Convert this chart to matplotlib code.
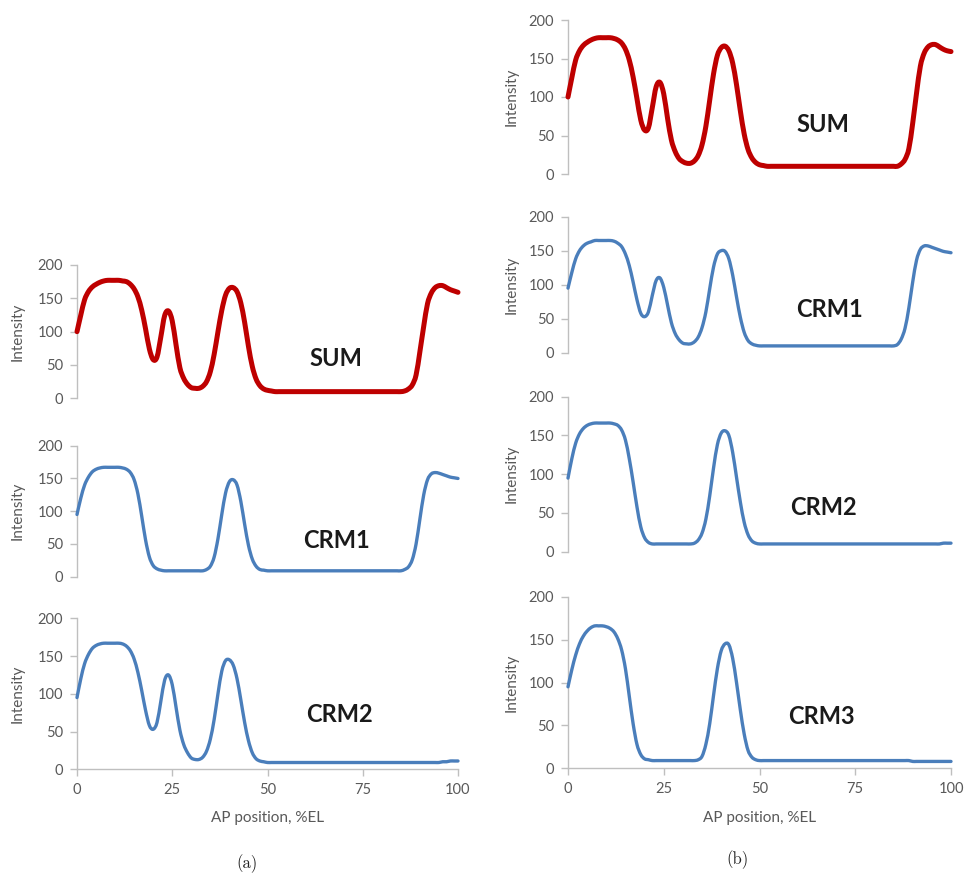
import matplotlib
matplotlib.use("Agg")
import numpy as np
import matplotlib.pyplot as plt
from matplotlib.path import Path
from matplotlib.patches import PathPatch

# ---------------- data ----------------
ap_position = list(range(0, 101))
xticks = [0, 25, 50, 75, 100]
xtick_labels = ["0", "25", "50", "75", "100"]
yticks = [0, 50, 100, 150, 200]
ytick_labels = ["0", "50", "100", "150", "200"]

a_sum = [100, 125, 148, 160, 167, 171, 174, 176, 177, 177,
         177, 177, 176, 175, 171, 164, 152, 132, 104, 74,
         58, 62, 92, 124, 131, 116, 80, 46, 30, 21,
         16, 15, 15, 18, 25, 40, 66, 100, 132, 155,
         165, 166, 160, 143, 114, 78, 48, 29, 19, 14,
         12, 11, 10, 10, 10, 10, 10, 10, 10, 10,
         10, 10, 10, 10, 10, 10, 10, 10, 10, 10,
         10, 10, 10, 10, 10, 10, 10, 10, 10, 10,
         10, 10, 10, 10, 10, 10, 11, 14, 20, 35,
         70, 108, 142, 158, 166, 169, 169, 166, 163, 161,
         159]

a_crm1 = [95, 120, 140, 152, 160, 164, 166, 167, 167, 167,
          167, 167, 166, 164, 159, 148, 126, 92, 56, 30,
          17, 12, 10, 9, 9, 9, 9, 9, 9, 9,
          9, 9, 9, 9, 11, 16, 30, 58, 95, 128,
          145, 148, 140, 115, 80, 48, 27, 16, 11, 10,
          9, 9, 9, 9, 9, 9, 9, 9, 9, 9,
          9, 9, 9, 9, 9, 9, 9, 9, 9, 9,
          9, 9, 9, 9, 9, 9, 9, 9, 9, 9,
          9, 9, 9, 9, 9, 9, 11, 15, 26, 50,
          88, 125, 148, 157, 159, 158, 156, 154, 152, 151,
          150]

a_crm2 = [95, 120, 140, 152, 160, 164, 166, 167, 167, 167,
          167, 167, 166, 163, 157, 146, 128, 104, 78, 58,
          53, 62, 90, 118, 125, 112, 82, 52, 33, 22,
          15, 13, 13, 16, 24, 40, 66, 100, 130, 144,
          145, 138, 120, 92, 62, 38, 22, 14, 11, 10,
          9, 9, 9, 9, 9, 9, 9, 9, 9, 9,
          9, 9, 9, 9, 9, 9, 9, 9, 9, 9,
          9, 9, 9, 9, 9, 9, 9, 9, 9, 9,
          9, 9, 9, 9, 9, 9, 9, 9, 9, 9,
          9, 9, 9, 9, 9, 9, 10, 10, 11, 11,
          11]

b_sum = [100, 125, 148, 160, 167, 171, 174, 176, 177, 177,
         177, 177, 176, 174, 170, 162, 148, 126, 98, 70,
         57, 60, 86, 113, 119, 104, 72, 44, 29, 20,
         16, 14, 14, 17, 24, 38, 62, 96, 130, 154,
         164, 166, 160, 144, 116, 82, 52, 32, 21, 15,
         12, 11, 10, 10, 10, 10, 10, 10, 10, 10,
         10, 10, 10, 10, 10, 10, 10, 10, 10, 10,
         10, 10, 10, 10, 10, 10, 10, 10, 10, 10,
         10, 10, 10, 10, 10, 10, 10, 13, 19, 33,
         66, 105, 140, 157, 165, 168, 168, 165, 162, 160,
         159]

b_crm1 = [95, 118, 138, 150, 157, 161, 163, 165, 165, 165,
          165, 165, 164, 161, 156, 145, 128, 104, 78, 58,
          53, 60, 84, 106, 110, 96, 70, 44, 28, 19,
          14, 13, 13, 16, 23, 37, 60, 94, 126, 145,
          150, 149, 138, 114, 82, 52, 30, 18, 13, 11,
          10, 10, 10, 10, 10, 10, 10, 10, 10, 10,
          10, 10, 10, 10, 10, 10, 10, 10, 10, 10,
          10, 10, 10, 10, 10, 10, 10, 10, 10, 10,
          10, 10, 10, 10, 10, 10, 12, 20, 36, 66,
          104, 136, 152, 157, 157, 155, 153, 151, 149, 148,
          147]

b_crm2 = [95, 120, 140, 152, 159, 163, 165, 166, 166, 166,
          166, 166, 165, 163, 157, 144, 120, 90, 58, 32,
          18, 12, 10, 10, 10, 10, 10, 10, 10, 10,
          10, 10, 10, 11, 15, 24, 42, 72, 108, 138,
          153, 156, 150, 128, 96, 64, 38, 22, 14, 11,
          10, 10, 10, 10, 10, 10, 10, 10, 10, 10,
          10, 10, 10, 10, 10, 10, 10, 10, 10, 10,
          10, 10, 10, 10, 10, 10, 10, 10, 10, 10,
          10, 10, 10, 10, 10, 10, 10, 10, 10, 10,
          10, 10, 10, 10, 10, 10, 10, 10, 11, 11,
          11]

b_crm3 = [95, 115, 132, 145, 154, 160, 164, 166, 166, 166,
          165, 163, 159, 151, 138, 116, 84, 52, 28, 16,
          11, 10, 9, 9, 9, 9, 9, 9, 9, 9,
          9, 9, 9, 9, 10, 14, 28, 52, 85, 116,
          137, 145, 144, 128, 100, 68, 40, 21, 13, 10,
          9, 9, 9, 9, 9, 9, 9, 9, 9, 9,
          9, 9, 9, 9, 9, 9, 9, 9, 9, 9,
          9, 9, 9, 9, 9, 9, 9, 9, 9, 9,
          9, 9, 9, 9, 9, 9, 9, 9, 9, 9,
          8, 8, 8, 8, 8, 8, 8, 8, 8, 8,
          8]

for s in (a_sum, a_crm1, a_crm2, b_sum, b_crm1, b_crm2, b_crm3):
    assert len(s) == len(ap_position), len(s)

# ---------------- style ----------------
RED = "#BE0000"
BLUE = "#4A7EBB"
AXIS_GRAY = "#BFBFBF"
TEXT_GRAY = "#595959"
FONT = ["Lato", "DejaVu Sans"]

W, H = 969, 876
fig = plt.figure(figsize=(W / 100, H / 100), dpi=100)


def px_axes(x0, x1, ytop, ybot):
    return fig.add_axes([x0 / W, 1 - ybot / H, (x1 - x0) / W, (ybot - ytop) / H])


def smoothed_path(x, y):
    """Excel-style smoothed line: cubic Bezier segments through every data point."""
    pts = np.column_stack([x, y]).astype(float)
    ext = np.vstack([pts[0], pts, pts[-1]])
    verts = [pts[0]]
    codes = [Path.MOVETO]
    for i in range(len(pts) - 1):
        p0, p1, p2, p3 = ext[i], ext[i + 1], ext[i + 2], ext[i + 3]
        verts += [p1 + (p2 - p0) / 6.0, p2 - (p3 - p1) / 6.0, p2]
        codes += [Path.CURVE4] * 3
    return Path(verts, codes)


# (series, label, color, lw, x0, x1, ytop, ybot, label_xy, is_bottom)
panels = [
    (a_sum, "SUM", RED, 3.6, 77, 458, 265, 398.3, (68, 60), False),
    (a_crm1, "CRM1", BLUE, 2.4, 77, 458, 445.7, 576.7, (68, 56), False),
    (a_crm2, "CRM2", BLUE, 2.4, 77, 458, 618.3, 769.3, (69, 72), True),
    (b_sum, "SUM", RED, 3.6, 568, 951, 20, 174, (66.6, 64), False),
    (b_crm1, "CRM1", BLUE, 2.4, 568, 951, 216.7, 352.7, (68.4, 63), False),
    (b_crm2, "CRM2", BLUE, 2.4, 568, 951, 396.7, 551.7, (66.6, 57), False),
    (b_crm3, "CRM3", BLUE, 2.4, 568, 951, 596.7, 768.3, (66.2, 60), True),
]

for series, label, color, lw, x0, x1, ytop, ybot, lxy, is_bottom in panels:
    ax = px_axes(x0, x1, ytop, ybot)
    ax.patch.set_alpha(0)
    line = PathPatch(smoothed_path(ap_position, series), fill=False,
                     edgecolor=color, lw=lw, capstyle="round",
                     joinstyle="round", clip_on=False, zorder=3)
    ax.add_patch(line)
    ax.set_xlim(0, 100)
    ax.set_ylim(0, 200)
    ax.set_yticks(yticks)
    ax.set_yticklabels(ytick_labels, family=FONT, fontsize=10.5, color=TEXT_GRAY)
    for side in ("top", "right"):
        ax.spines[side].set_visible(False)
    ax.spines["left"].set_color(AXIS_GRAY)
    ax.spines["left"].set_linewidth(1.0)
    ax.tick_params(axis="y", direction="out", length=5, width=1.0,
                   color=AXIS_GRAY, pad=5)
    if is_bottom:
        ax.spines["bottom"].set_color(AXIS_GRAY)
        ax.spines["bottom"].set_linewidth(1.0)
        ax.set_xticks(xticks)
        ax.set_xticklabels(xtick_labels, family=FONT, fontsize=10.5, color=TEXT_GRAY)
        ax.tick_params(axis="x", direction="out", length=5, width=1.0,
                       color=AXIS_GRAY, pad=5)
    else:
        ax.spines["bottom"].set_visible(False)
        ax.tick_params(axis="x", bottom=False, labelbottom=False)
    ax.text(lxy[0], lxy[1], label, ha="center", va="center", fontsize=17,
            fontweight="bold", family=FONT, color="#1A1A1A", zorder=4)
    # y axis title
    yc = (ytop + ybot) / 2
    xl = 18 if x0 < 300 else 512
    fig.text(xl / W, 1 - yc / H, "Intensity", rotation=90, ha="center",
             va="center", family=FONT, fontsize=11, color=TEXT_GRAY)

# x axis titles
fig.text(267.5 / W, 1 - 818 / H, "AP position, %EL", ha="center", va="center",
         family=FONT, fontsize=11, color=TEXT_GRAY)
fig.text(759.5 / W, 1 - 818 / H, "AP position, %EL", ha="center", va="center",
         family=FONT, fontsize=11, color=TEXT_GRAY)

# sub-figure captions
fig.text(247 / W, 1 - 864 / H, "(a)", ha="center", va="center",
         family=["cmr10", "DejaVu Serif"], fontsize=12, color="#222222")
fig.text(737 / W, 1 - 860 / H, "(b)", ha="center", va="center",
         family=["cmr10", "DejaVu Serif"], fontsize=12, color="#222222")

fig.savefig("out.png", dpi=100, facecolor="white")
